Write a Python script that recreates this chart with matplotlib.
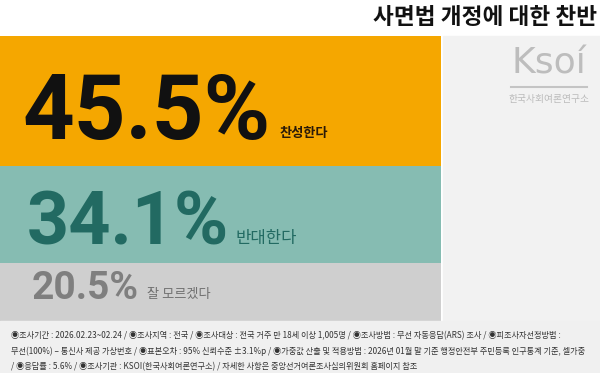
import matplotlib
matplotlib.use('Agg')
import matplotlib.pyplot as plt
from matplotlib.patches import Rectangle

plt.rcParams['font.family'] = ['Noto Sans CJK KR', 'DejaVu Sans']

title = '사면법 개정에 대한 찬반'
labels = ['찬성한다', '반대한다', '잘 모르겠다']
values = [45.5, 34.1, 20.5]
band_colors = ['#F5A700', '#86BCB2', '#CFCFCF']
num_colors = ['#111111', '#226A62', '#7F7F7F']
lab_colors = ['#2A1A08', '#226A62', '#707070']
notes = [
    '◉조사기간 : 2026.02.23~02.24 / ◉조사지역 : 전국 / ◉조사대상 : 전국 거주 만 18세 이상 1,005명 / ◉조사방법 : 무선 자동응답(ARS) 조사 / ◉피조사자선정방법 :',
    '무선(100%) – 통신사 제공 가상번호 / ◉표본오차 : 95% 신뢰수준 ±3.1%p / ◉가중값 산출 및 적용방법 : 2026년 01월 말 기준 행정안전부 주민등록 인구통계 기준, 셀가중',
    '/ ◉응답률 : 5.6% / ◉조사기관 : KSOI(한국사회여론연구소) / 자세한 사항은 중앙선거여론조사심의위원회 홈페이지 참조',
]

W, H = 600, 373
fig = plt.figure(figsize=(6, 3.73), dpi=100)
fig.patch.set_facecolor('white')

# 배경: 오른쪽 패널, 하단 주석 영역
fig.patches.append(Rectangle((443 / W, (H - 321) / H), 1, (321 - 36) / H,
                             transform=fig.transFigure, color='#F2F2F2', zorder=0))
fig.patches.append(Rectangle((0, 0), 1, (H - 321) / H,
                             transform=fig.transFigure, color='#F0F0F0', zorder=0))

ax = fig.add_axes([0, (H - 321) / H, 441 / W, (321 - 36) / H])
ax.set_xlim(0, 1)
ax.set_ylim(sum(values), 0)
ax.axis('off')

num_sizes = [65, 53, 28]
lab_sizes = [9.5, 12, 9.5]
lab_weights = ['bold', 'medium', 'medium']
num_x = [0.051, 0.061, 0.071]
lift = [27, 18, 22]      # 막대 아래쪽에서 숫자 기준선까지 (px)
gap = [9, 6, 9]          # 숫자와 라벨 사이 (px)

bottom = 0
for i, v in enumerate(values):
    ax.bar(0.5, v, bottom=bottom, width=1, color=band_colors[i], edgecolor='none')
    yb = bottom + v
    t = ax.annotate(f'{v}%', xy=(num_x[i], yb), xytext=(0, lift[i] * 0.72),
                    textcoords='offset points', fontsize=num_sizes[i],
                    fontweight='bold', color=num_colors[i],
                    family=['Roboto', 'DejaVu Sans'],
                    va='baseline', ha='left')
    fig.canvas.draw()
    bb = t.get_window_extent()
    xr = ax.transData.inverted().transform((bb.x1, bb.y0))[0]
    ax.annotate(labels[i], xy=(xr, yb), xytext=(gap[i] * 0.72, lift[i] * 0.72 + 1),
                textcoords='offset points', fontsize=lab_sizes[i],
                color=lab_colors[i], fontweight=lab_weights[i],
                va='baseline', ha='left')
    bottom += v

# 제목
fig.text(597 / W, 1 - 17 / H, title, fontsize=16.3, fontweight='heavy',
         ha='right', va='center', color='#111111')

# 로고
fig.text(549 / W, 1 - 63 / H, 'Ksoí', fontsize=26, color='#BDBDBD',
         ha='center', va='center', family=['DejaVu Sans'])
fig.add_artist(plt.Line2D([511 / W, 587 / W], [1 - 87 / H, 1 - 87 / H],
                          color='#C4C4C4', lw=1.5, transform=fig.transFigure))
fig.text(549 / W, 1 - 99 / H, '한국사회여론연구소', fontsize=7, color='#BBBBBB',
         ha='center', va='center')

# 하단 주석
for i, line in enumerate(notes):
    fig.text(11 / W, 1 - (336 + 15.5 * i) / H, line, fontsize=5.9, color='#333333',
             ha='left', va='center')

fig.savefig('out.png', dpi=100)
